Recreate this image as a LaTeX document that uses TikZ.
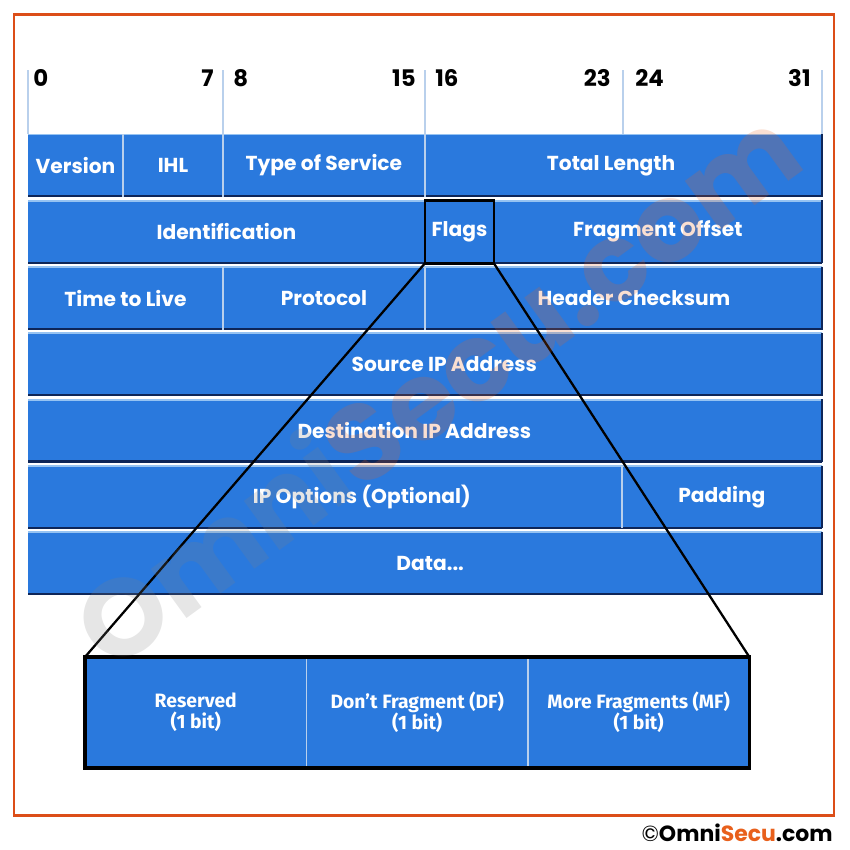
\documentclass[tikz,border=0pt]{standalone}
\usepackage{fontspec}
\setmainfont{Poppins}
\newfontfamily\condfont{Fira Sans}
\usepackage{tikz}
\usetikzlibrary{positioning}
\usepackage{xcolor}
\definecolor{ipblue}{RGB}{42,121,221}
\definecolor{rimdark}{RGB}{14,38,88}
\definecolor{rimlight}{RGB}{150,195,242}
\definecolor{divline}{RGB}{185,208,236}
\definecolor{framered}{RGB}{220,78,24}
\definecolor{logoorange}{RGB}{232,96,28}
\newcommand{\cellfont}{\bfseries\fontsize{11.5}{13}\selectfont}
\newcommand{\nudge}[2]{\hspace*{#1}#2\hspace*{-#1}}

\begin{document}
\begin{tikzpicture}[x=0.02cm, y=-0.02cm,
    field/.style={rectangle, fill=ipblue, text=white, inner sep=0pt, outer sep=0pt,
      minimum height=12.6mm, font=\cellfont,
      path picture={
        \draw[rimdark, line width=2pt] (path picture bounding box.south west) -- (path picture bounding box.south east);
        \draw[rimlight, line width=1.6pt] (path picture bounding box.north west) -- (path picture bounding box.north east);}},
    bitfield/.style={field, minimum height=22.2mm, minimum width=44.3mm,
      font=\condfont\bfseries\fontsize{11}{12}\selectfont, align=center},
    divider/.style={divline, line width=0.8pt},
    rimedge/.style={rimdark, line width=1.2pt},
    bitnum/.style={font=\bfseries\fontsize{13}{14}\selectfont, inner sep=0pt},
    funnel/.style={black, line width=1.3pt}]
  \useasboundingbox (0,0) rectangle (850,850);

  % Frame
  \draw[framered, line width=1.7pt] (14,14) rectangle (834,815);

  % Bit numbers and ticks
  \foreach \x in {28,223,425,623,822}
    \draw[divider] (\x,70) -- (\x,134);
  \foreach \x/\t/\a in {33/0/west, 214/7/east, 233/8/west, 416/15/east,
                        435/16/west, 611/23/east, 635/24/west, 811/31/east}
    \node[bitnum, anchor=\a] (b\t) at (\x,78) {\t};

  % Row 1
  \node[field, anchor=north west, minimum width=19mm] (ver) at (28,134) {Version};
  \node[field, minimum width=20mm, right=0pt of ver] (ihl) {IHL};
  \node[field, minimum width=40.4mm, right=0pt of ihl] (tos) {Type of Service};
  \node[field, minimum width=79.4mm, right=0pt of tos] (tlen) {\nudge{-7pt}{Total Length}};

  % Row 2
  \node[field, anchor=north west, minimum width=79.4mm] (ident) at (28,200.3) {Identification};
  \node[field, minimum width=13.8mm, right=0pt of ident] (flags) {Flags};
  \node[field, minimum width=65.6mm, right=0pt of flags] (frag) {Fragment Offset};

  % Row 3
  \node[field, anchor=north west, minimum width=39mm] (ttl) at (28,266.6) {Time to Live};
  \node[field, minimum width=40.4mm, right=0pt of ttl] (proto) {Protocol};
  \node[field, minimum width=79.4mm, right=0pt of proto] (cksum) {\nudge{6pt}{Header Checksum}};

  % Rows 4 to 7
  \node[field, anchor=north west, minimum width=158.8mm] (src) at (28,332.9) {\nudge{11pt}{Source IP Address}};
  \node[field, anchor=north west, minimum width=158.8mm] (dst) at (28,399.2) {\nudge{-6pt}{Destination IP Address}};
  \node[field, anchor=north west, minimum width=118.8mm] (opts) at (28,465.5) {\nudge{21pt}{IP Options (Optional)}};
  \node[field, minimum width=40mm, right=0pt of opts] (pad) {Padding};
  \node[field, anchor=north west, minimum width=158.8mm] (data) at (28,531.8) {\nudge{3pt}{Data...}};

  % Dividers and right edges
  \foreach \n in {ihl,tos,tlen,proto,cksum,pad}
    \draw[divider] (\n.north west) -- (\n.south west);
  \foreach \n in {tlen,frag,cksum,src,dst,pad,data}
    \draw[rimedge] (\n.north east) -- (\n.south east);

  % Flag bits
  \node[bitfield, anchor=north west] (resv) at (85,657) {Reserved\\(1 bit)};
  \node[bitfield, right=0pt of resv] (dontfr) {Don’t Fragment (DF)\\(1 bit)};
  \node[bitfield, right=0pt of dontfr] (morefr) {More Fragments (MF)\\(1 bit)};
  \foreach \n in {dontfr,morefr}
    \draw[divider] (\n.north west) -- (\n.south west);
  \draw[black, line width=1.8pt] (resv.north west) rectangle (morefr.south east);

  % Flags zoom
  \draw[black, line width=1.5pt] (flags.north west) rectangle (flags.south east);
  \draw[funnel] (flags.south west) -- (resv.north west);
  \draw[funnel] (flags.south east) -- (morefr.north east);

  % Watermark
  \node[rotate=36, opacity=0.2, font=\bfseries\fontsize{62}{62}\selectfont] (wmark) at (435,385)
    {{\color{gray}Omni}{\color{logoorange}Secu.com}};

  % Logo
  \node[anchor=east, inner sep=0pt, font=\bfseries\fontsize{12.5}{14}\selectfont] (logo) at (833,833)
    {{\mdseries\textcopyright}Omni{\color{logoorange}Secu}.com};
\end{tikzpicture}
\end{document}
